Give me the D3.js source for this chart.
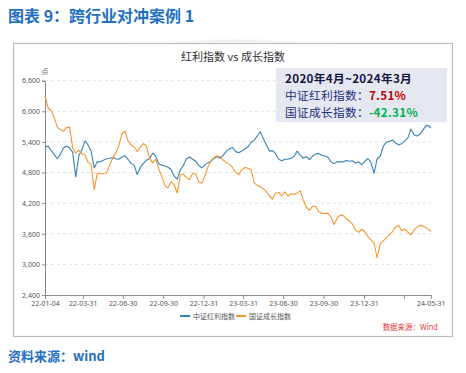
<!DOCTYPE html>
<html>
<head>
<meta charset="utf-8">
<script src="https://cdn.jsdelivr.net/npm/d3@7"></script>
<style>
  body { margin: 0; background: #fff; }
  svg { display: block; font-family: "Noto Sans CJK SC", "Noto Sans", sans-serif; }
</style>
</head>
<body>
<script>
//wrap everything in a self-executing function to keep it local
(function all(){
  //series names
  var seriesNames = ["中证红利指数", "国证成长指数"];
  //weekly readings of the two indices, last value is 2024-05-31
  var dividendVals = [
    5290,5320,5230,5150,5070,5160,5280,5320,5280,5200,
    4715,5130,5250,5420,5340,5220,4890,5010,5010,5040,
    5070,5080,5095,5070,5060,5100,5130,5060,4980,4945,
    4760,4900,4980,5040,5075,5180,5120,4970,4945,4930,
    4905,4860,4730,4670,4850,4940,5070,5105,5060,5020,
    4940,4890,4950,4990,5020,5085,5110,5080,5140,5220,
    5265,5290,5210,5190,5220,5260,5300,5390,5430,5515,
    5600,5465,5340,5220,5230,5170,5060,5030,5060,5060,
    5080,5120,5220,5140,5080,5110,5055,5120,5165,5175,
    5140,5125,5100,5010,4975,5010,5010,5010,5035,5020,
    5030,4985,5010,4955,5020,5075,5000,4785,5070,5120,
    5310,5400,5410,5440,5380,5345,5365,5420,5480,5650,
    5540,5515,5555,5640,5725,5710,5670
  ];
  var growthVals = [
    6300,6070,6010,5880,5690,5640,5610,5680,5690,5280,
    5180,5240,5165,5150,5000,4960,4460,4780,4770,4780,
    4790,4940,5080,5180,5320,5560,5610,5420,5340,5300,
    5215,5300,5370,5320,5080,4990,5060,4870,4720,4540,
    4500,4620,4560,4400,4750,4770,4700,4660,4785,4770,
    4620,4590,4730,4910,5040,5100,5130,5110,5040,4995,
    4960,4900,4800,4760,4855,4900,4885,4860,4600,4550,
    4520,4485,4425,4340,4280,4400,4410,4340,4420,4340,
    4385,4370,4400,4440,4260,4120,4060,4140,4140,4030,
    4000,4000,4000,3930,3780,3900,3965,3955,3890,3850,
    3790,3670,3630,3690,3640,3550,3480,3420,3130,3400,
    3460,3520,3580,3640,3735,3765,3660,3690,3630,3580,
    3670,3735,3765,3750,3715,3670,3640
  ];
  //x axis ticks (2024-03-31 label is hidden in the original)
  var xTickDates = ["2022-01-04","2022-03-31","2022-06-30","2022-09-30","2022-12-31",
    "2023-03-31","2023-06-30","2023-09-30","2023-12-31","2024-03-31","2024-05-31"];
  var xTickLabels = ["22-01-04","22-03-31","22-06-30","22-09-30","22-12-31",
    "23-03-31","23-06-30","23-09-30","23-12-31","","24-05-31"];
  var yTicks = [2400, 3000, 3600, 4200, 4800, 5400, 6000, 6600];
  //box text
  var boxTitle = "2020年4月~2024年3月";
  var boxLabels = ["中证红利指数：", "国证成长指数："];
  var boxValues = ["7.51%", "-42.31%"];

  var colors = ["#3582b7", "#f7962f"];
  var blueText = "#1f6fc2";

  window.onload = draw();

  function draw(){
    var width = 466, height = 373;
    var svg = d3.select("body").append("svg")
      .attr("width", width)
      .attr("height", height);

    var parse = d3.timeParse("%Y-%m-%d");
    var start = parse(xTickDates[0]),
        end = parse(xTickDates[xTickDates.length - 1]);
    //weekly dates plus the last day
    var dates = d3.timeDay.range(start, end, 7);
    dates.push(end);

    //page title
    svg.append("text")
      .attr("x", 8).attr("y", 22)
      .style("font-size", "16px").style("font-weight", "bold")
      .style("fill", blueText)
      .text("图表 9：跨行业对冲案例 1");

    //soft shadow above the frame
    var defs = svg.append("defs");
    var grad = defs.append("radialGradient").attr("id", "shade")
      .attr("cx", "50%").attr("cy", "50%").attr("r", "50%");
    grad.append("stop").attr("offset", "0%").style("stop-color", "#e9e9e9");
    grad.append("stop").attr("offset", "100%").style("stop-color", "#ffffff").style("stop-opacity", 0);
    svg.append("ellipse")
      .attr("cx", 233).attr("cy", 41).attr("rx", 115).attr("ry", 3)
      .style("fill", "url(#shade)");

    //frame
    svg.append("rect")
      .attr("x", 13.5).attr("y", 43.5)
      .attr("width", 439).attr("height", 293)
      .style("fill", "#fff").style("stroke", "#bdbdbd").style("stroke-width", 1.2);

    //chart title
    svg.append("text")
      .attr("x", 233).attr("y", 61)
      .attr("text-anchor", "middle")
      .style("font-size", "11px").style("fill", "#333")
      .text("红利指数 vs 成长指数");

    var x = d3.scaleTime().domain([start, end]).range([45, 430.7]);
    var y = d3.scaleLinear().domain([2400, 6600]).range([295, 80.7]);

    //gridlines
    svg.append("g").selectAll("line")
      .data(yTicks.slice(1))
      .enter().append("line")
      .attr("x1", 45).attr("x2", 431)
      .attr("y1", function(d){ return y(d); })
      .attr("y2", function(d){ return y(d); })
      .style("stroke", "#e2e2e2").style("stroke-dasharray", "3,3");

    //y axis
    var yAxis = svg.append("g")
      .attr("transform", "translate(45,0)")
      .call(d3.axisLeft(y).tickValues(yTicks).tickFormat(d3.format(",")).tickSize(3).tickPadding(2));
    yAxis.select(".domain").style("stroke", "#8a8a8a");
    yAxis.selectAll(".tick line").style("stroke", "#8a8a8a");
    yAxis.selectAll("text").style("font-size", "7px").style("fill", "#555")
      .style("font-family", "'Noto Sans', sans-serif");

    svg.append("text")
      .attr("x", 45).attr("y", 74)
      .attr("text-anchor", "middle")
      .style("font-size", "7px").style("fill", "#666")
      .text("点");

    //x axis
    var xAxis = svg.append("g")
      .attr("transform", "translate(0,295)")
      .call(d3.axisBottom(x)
        .tickValues(xTickDates.map(parse))
        .tickFormat(function(d, i){ return xTickLabels[i]; })
        .tickSize(4).tickSizeOuter(0).tickPadding(2));
    xAxis.select(".domain").style("stroke", "#8a8a8a");
    xAxis.selectAll(".tick line").style("stroke", "#8a8a8a");
    xAxis.selectAll("text").style("font-size", "7px").style("fill", "#555")
      .style("font-family", "'Noto Sans', sans-serif");

    //lines
    var line = d3.line()
      .x(function(d){ return x(d[0]); })
      .y(function(d){ return y(d[1]); });
    var seriesData = [dividendVals, growthVals];
    seriesData.forEach(function(vals, s){
      svg.append("path")
        .datum(dates.map(function(d, i){ return [d, vals[i]]; }))
        .attr("d", line)
        .style("fill", "none")
        .style("stroke", colors[s])
        .style("stroke-width", 1.1)
        .style("stroke-linejoin", "round");
    });

    //summary box
    svg.append("rect")
      .attr("x", 276).attr("y", 68)
      .attr("width", 171).attr("height", 54)
      .style("fill", "#e6e8f1");
    svg.append("text")
      .attr("x", 285).attr("y", 83)
      .style("font-size", "11.7px").style("font-weight", "bold")
      .style("letter-spacing", "0.3px").style("fill", "#16163f")
      .text(boxTitle);
    var boxColors = ["#c00000", "#00b050"];
    boxLabels.forEach(function(lab, i){
      var t = svg.append("text")
        .attr("x", 285).attr("y", 100 + i * 17)
        .style("font-size", "11.7px").style("letter-spacing", "0.3px");
      t.append("tspan").style("fill", "#1b2f80").text(lab);
      t.append("tspan").style("fill", boxColors[i]).style("font-weight", "bold").text(boxValues[i]);
    });

    //legend
    var legend = svg.append("g");
    var legendX = [180, 236];
    seriesNames.forEach(function(name, i){
      legend.append("line")
        .attr("x1", legendX[i]).attr("x2", legendX[i] + 10)
        .attr("y1", 316).attr("y2", 316)
        .style("stroke", colors[i]).style("stroke-width", 2);
      legend.append("text")
        .attr("x", legendX[i] + 13).attr("y", 318.5)
        .style("font-size", "7px").style("fill", "#555")
        .text(name);
    });

    //data source inside frame
    svg.append("text")
      .attr("x", 438).attr("y", 330)
      .attr("text-anchor", "end")
      .style("font-size", "7.5px").style("fill", "#e03a3a")
      .text("数据来源：Wind");

    //source under frame
    svg.append("text")
      .attr("x", 8).attr("y", 361)
      .style("font-size", "13px").style("font-weight", "bold")
      .style("fill", blueText)
      .text("资料来源：wind");
  }
})();
</script>
</body>
</html>
